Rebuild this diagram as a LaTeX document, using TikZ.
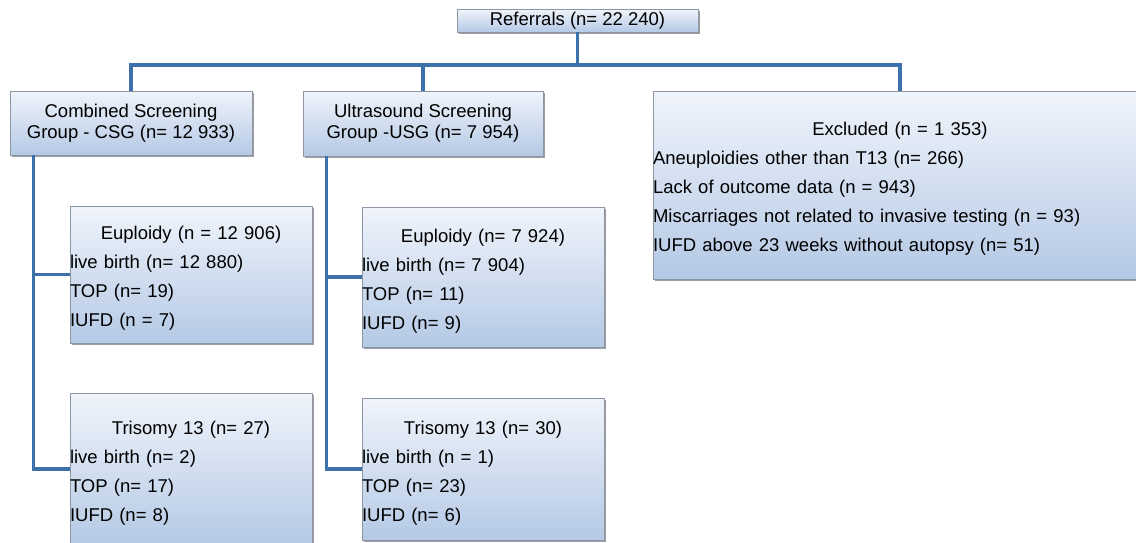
\documentclass[tikz,border=0pt]{standalone}
\usepackage{fontspec}
\setmainfont{Liberation Sans}
\usetikzlibrary{shadows}
\definecolor{linkblue}{RGB}{60,113,172}
\definecolor{boxtop}{RGB}{240,244,251}
\definecolor{boxbot}{RGB}{180,201,229}
\definecolor{boxline}{RGB}{140,150,165}
\newcommand{\listend}{\par\vspace*{-8pt}}
\begin{document}
\begin{tikzpicture}[x=1pt,y=-1pt,
    box/.style={draw=boxline, line width=0.8pt, top color=boxtop, bottom color=boxbot,
        inner sep=0pt, font=\fontsize{18.5}{29}\selectfont,
        drop shadow={shadow xshift=1.5pt, shadow yshift=-2.2pt, fill=black!55, opacity=0.7}},
    list/.style={box, execute at end node=\listend},
    head/.style={box, align=center, font=\fontsize{18.5}{21}\selectfont},
    link/.style={draw=linkblue, line width=3.6pt}]
\useasboundingbox (0,0) rectangle (1136,542);
% top row
\node[head, minimum width=241pt, minimum height=23pt] (ref) at (577.5,20.5) {Referrals (n= 22 240)};
\node[head, minimum width=242pt, minimum height=64pt] (csg) at (131,123) {Combined Screening\\Group - CSG (n= 12 933)};
\node[head, minimum width=240pt, minimum height=65pt] (usg) at (423,123.5) {Ultrasound Screening\\Group -USG (n= 7 954)};
\node[list, text width=494pt, minimum height=188pt] (excl) at (900,185) {\centering Excluded (n = 1 353)\par\raggedright
    Aneuploidies other than T13 (n= 266)\par Lack of outcome data (n = 943)\par
    Miscarriages not related to invasive testing (n = 93)\par IUFD above 23 weeks without autopsy (n= 51)};
% outcome boxes
\node[list, text width=242pt, minimum height=137pt] (eu1) at (191,274.5) {\centering Euploidy (n = 12 906)\par\raggedright
    live birth (n= 12 880)\par TOP (n= 19)\par IUFD (n = 7)};
\node[list, text width=242pt, minimum height=140pt] (eu2) at (483,277) {\centering Euploidy (n= 7 924)\par\raggedright
    live birth (n= 7 904)\par TOP (n= 11)\par IUFD (n= 9)};
\node[list, text width=242pt, minimum height=152pt] (tri1) at (191,469) {\centering Trisomy 13 (n= 27)\par\raggedright
    live birth (n= 2)\par TOP (n= 17)\par IUFD (n= 8)};
\node[list, text width=242pt, minimum height=142pt] (tri2) at (483,469) {\centering Trisomy 13 (n= 30)\par\raggedright
    live birth (n = 1)\par TOP (n= 23)\par IUFD (n= 6)};
% connectors
\coordinate (hub) at (577.5,65);
\draw[link] (ref.south) -- (hub);
\draw[link] (hub) -| (csg.north);
\draw[link] (hub) -| (usg.north);
\draw[link] (hub) -| (excl.north);
\draw[link] ([xshift=24pt]csg.south west) |- (eu1.west);
\draw[link] ([xshift=24pt]csg.south west) |- (tri1.west);
\draw[link] ([xshift=24pt]usg.south west) |- (eu2.west);
\draw[link] ([xshift=24pt]usg.south west) |- (tri2.west);
\end{tikzpicture}
\end{document}
